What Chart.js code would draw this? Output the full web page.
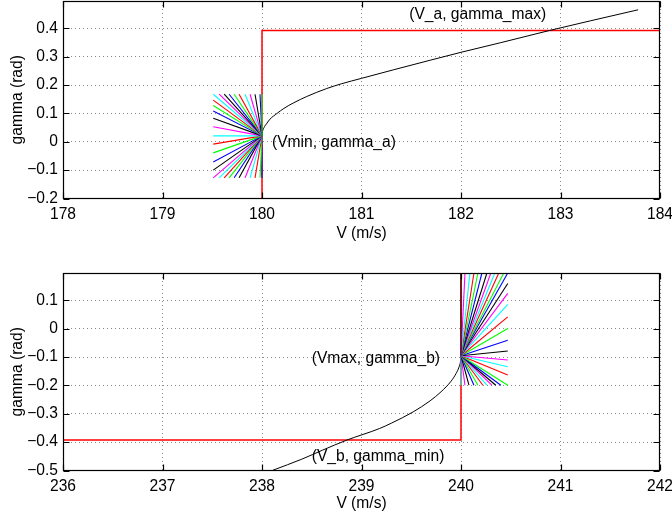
<!DOCTYPE html>
<html>
<head>
<meta charset="utf-8">
<script src="https://cdn.jsdelivr.net/npm/chart.js@4/dist/chart.umd.min.js"></script>
<style>
  body { margin: 0; background: #fff; }
  #wrap { position: relative; width: 672px; height: 515px; }
  canvas { position: absolute; left: 0; }
</style>
</head>
<body>
<div id="wrap">
  <canvas id="upper" width="672" height="257" style="top:0"></canvas>
  <canvas id="lower" width="672" height="258" style="top:257px"></canvas>
</div>
<script>
// ---- upper plot (around Vmin) ----
const curveA_V = [180.0, 180.005, 180.02, 180.05, 180.08, 180.15, 180.22, 180.32, 180.45, 180.65, 180.8, 181.0, 181.32, 181.69, 182.0, 182.4, 182.89, 183.3, 183.78];
const curveA_G = [0.021, 0.036, 0.050, 0.066, 0.080, 0.100, 0.118, 0.138, 0.160, 0.188, 0.205, 0.224, 0.254, 0.288, 0.316, 0.350, 0.393, 0.427, 0.466];
const stepA_V = [180, 180, 184];
const stepA_G = [-0.2, 0.3927, 0.3927];
const fanA_center = [180, 0.021];
const fanA_topG = 0.168;
const fanA_topV = [180.0, 179.98, 179.93, 179.88, 179.83, 179.77, 179.72, 179.67, 179.62, 179.57, 179.51];
const fanA_sideV = 179.51;
const fanA_sideG = [0.147, 0.128, 0.109, 0.083, 0.053, 0.021, -0.008, -0.039, -0.071, -0.100];
const fanA_botG = -0.127;
const fanA_botV = [179.51, 179.57, 179.62, 179.67, 179.72, 179.77, 179.83, 179.88, 179.93, 179.98, 180.0];
const xTicksA = [178, 179, 180, 181, 182, 183, 184];
const yTicksA = [-0.2, -0.1, 0, 0.1, 0.2, 0.3, 0.4];
const textA = ["(V_a, gamma_max)", "(Vmin, gamma_a)"];
const textA_V = [181.48, 180.1];
const textA_G = [0.447, -0.003];

// ---- lower plot (around Vmax) ----
const curveB_V = [238.11, 238.4, 238.61, 238.85, 239.18, 239.3, 239.52, 239.69, 239.8, 239.9, 239.95, 239.98, 239.995, 240.0];
const curveB_G = [-0.499, -0.46, -0.428, -0.393, -0.352, -0.333, -0.293, -0.254, -0.222, -0.185, -0.158, -0.135, -0.115, -0.095];
const stepB_V = [236, 240, 240];
const stepB_G = [-0.3927, -0.3927, 0.197];
const fanB_center = [240, -0.095];
const fanB_topG = 0.197;
const fanB_topV = [240.0, 240.04, 240.09, 240.13, 240.17, 240.21, 240.26, 240.30, 240.34, 240.38, 240.43, 240.47];
const fanB_sideV = 240.47;
const fanB_sideG = [0.160, 0.125, 0.086, 0.042, 0.001, -0.040, -0.078, -0.110, -0.134, -0.163];
const fanB_botG = -0.199;
const fanB_botV = [240.47, 240.40, 240.35, 240.31, 240.26, 240.22, 240.17, 240.13, 240.08, 240.04, 240.0];
const xTicksB = [236, 237, 238, 239, 240, 241, 242];
const yTicksB = [-0.5, -0.4, -0.3, -0.2, -0.1, 0, 0.1];
const textB = ["(Vmax, gamma_b)", "(V_b, gamma_min)"];
const textB_V = [238.5, 238.5];
const textB_G = [-0.105, -0.452];

const fanColors = ["#000000", "#ff00ff", "#00ffff", "#ff0000", "#00ff00", "#0000ff"];
const FONT = "'Liberation Sans', Arial, Helvetica, sans-serif";
const FS = 15.6;
Chart.defaults.font.family = FONT;
Chart.defaults.color = "#000";

const pts = (xs, ys) => xs.map((x, i) => ({ x, y: ys[i] }));
const minus = (v) => String(v).replace("-", "\u2212");

function fanSets(center, topV, topG, sideV, sideG, botV, botG, shift) {
  const ends = []
    .concat(topV.map((v) => [v, topG]))
    .concat(sideG.map((g) => [sideV, g]))
    .concat(botV.map((v) => [v, botG]));
  return ends.map((p, i) => ({
    data: [{ x: center[0], y: center[1] }, { x: p[0], y: p[1] }],
    borderColor: fanColors[(i + shift) % fanColors.length],
    borderWidth: 1.1,
  }));
}

// box, inward ticks and the text labels, MATLAB style
const frame = {
  id: "frame",
  afterDatasetsDraw(chart, args, opts) {
    const { ctx, chartArea: a, scales } = chart;
    ctx.save();
    ctx.strokeStyle = "#000";
    ctx.lineWidth = 1.2;
    const L = Math.round(a.left) + 0.5, R = Math.round(a.right) - 0.5;
    const T = Math.round(a.top) + 0.5, B = Math.round(a.bottom) - 0.5;
    ctx.strokeRect(L, T, R - L, B - T);
    ctx.beginPath();
    scales.x.ticks.forEach((t) => {
      const px = Math.round(scales.x.getPixelForValue(t.value)) + 0.5;
      ctx.moveTo(px, B); ctx.lineTo(px, B - 6);
      ctx.moveTo(px, T); ctx.lineTo(px, T + 6);
    });
    scales.y.ticks.forEach((t) => {
      const py = Math.round(scales.y.getPixelForValue(t.value)) + 0.5;
      ctx.moveTo(L, py); ctx.lineTo(L + 6, py);
      ctx.moveTo(R, py); ctx.lineTo(R - 6, py);
    });
    ctx.stroke();
    ctx.fillStyle = "#000";
    ctx.font = FS + "px " + FONT;
    ctx.textAlign = "left";
    ctx.textBaseline = "middle";
    opts.labels.forEach((s, i) => {
      ctx.fillText(s, scales.x.getPixelForValue(opts.vs[i]), scales.y.getPixelForValue(opts.gs[i]));
    });
    ctx.restore();
  },
};

function makeChart(id, p) {
  const datasets = p.fan
    .concat([{ data: p.curve, borderColor: "#000", borderWidth: 1, cubicInterpolationMode: "monotone" }])
    .concat([{ data: p.step, borderColor: "#ff0000", borderWidth: 1.5 }]);
  return new Chart(document.getElementById(id), {
    type: "scatter",
    data: { datasets: datasets.map((d) => Object.assign({ showLine: true, pointRadius: 0, fill: false }, d)) },
    options: {
      responsive: false,
      animation: false,
      events: [],
      layout: { padding: { left: 0, right: 12, top: p.padTop, bottom: 0 } },
      plugins: {
        legend: { display: false },
        tooltip: { enabled: false },
        frame: { labels: p.labels, vs: p.labelV, gs: p.labelG },
      },
      scales: {
        x: {
          type: "linear",
          min: p.xMin,
          max: p.xMax,
          afterBuildTicks: (s) => { s.ticks = p.xTicks.map((v) => ({ value: v })); },
          afterFit: (s) => { s.height = p.xAxisH; s.paddingLeft = 0; s.paddingRight = 0; },
          grid: { color: "#8a8a8a", lineWidth: 1, drawTicks: false },
          border: { display: false, dash: [1, 3] },
          ticks: { padding: 7, maxRotation: 0, autoSkip: false, font: { size: FS }, callback: minus },
          title: { display: true, text: "V (m/s)", font: { size: FS }, padding: { top: 0, bottom: p.titlePad } },
        },
        y: {
          type: "linear",
          min: p.yMin,
          max: p.yMax,
          afterBuildTicks: (s) => { s.ticks = p.yTicks.map((v) => ({ value: v })); },
          afterFit: (s) => { s.width = 63; s.paddingTop = 0; s.paddingBottom = 0; },
          grid: { color: "#8a8a8a", lineWidth: 1, drawTicks: false },
          border: { display: false, dash: [1, 3] },
          ticks: { padding: 5, autoSkip: false, font: { size: FS }, callback: minus },
          title: { display: true, text: "gamma (rad)", font: { size: FS }, padding: { top: 8.5, bottom: 0 } },
        },
      },
    },
    plugins: [frame],
  });
}

makeChart("upper", {
  fan: fanSets(fanA_center, fanA_topV, fanA_topG, fanA_sideV, fanA_sideG, fanA_botV, fanA_botG, 4),
  curve: pts(curveA_V, curveA_G),
  step: pts(stepA_V, stepA_G),
  xMin: 178, xMax: 184, yMin: -0.2, yMax: 0.497,
  xTicks: xTicksA, yTicks: yTicksA,
  labels: textA, labelV: textA_V, labelG: textA_G,
  padTop: 1, xAxisH: 58.5, titlePad: 14,
});

makeChart("lower", {
  fan: fanSets(fanB_center, fanB_topV, fanB_topG, fanB_sideV, fanB_sideG, fanB_botV, fanB_botG, 0),
  curve: pts(curveB_V, curveB_G),
  step: pts(stepB_V, stepB_G),
  xMin: 236, xMax: 242, yMin: -0.5, yMax: 0.197,
  xTicks: xTicksB, yTicks: yTicksB,
  labels: textB, labelV: textB_V, labelG: textB_G,
  padTop: 16, xAxisH: 44.5, titlePad: 2,
});
</script>
</body>
</html>
